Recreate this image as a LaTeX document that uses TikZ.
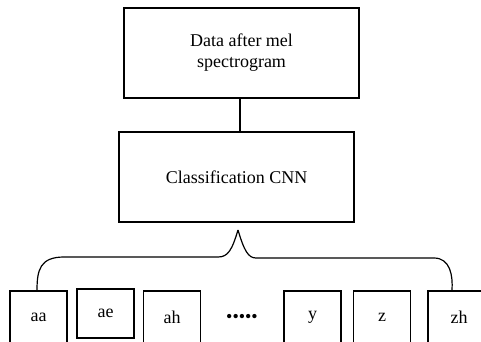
\documentclass[tikz,border=0pt]{standalone}
\usepackage{fontspec}
\setmainfont{Liberation Serif}
\begin{document}
\begin{tikzpicture}[x=1pt,y=-1pt,
  box/.style={draw, line width=1.2pt, inner sep=0pt, align=center, font=\fontsize{18}{21}\selectfont},
  leaf/.style={box, minimum width=57pt, minimum height=52pt},
  link/.style={line width=1.2pt}]
\useasboundingbox (0,0) rectangle (481,341);
\clip (0,0) rectangle (481,341);
\node[box, minimum width=235pt, minimum height=90pt] (data) at (241.5,53) {Data after mel\\spectrogram};
\node[box, minimum width=235pt, minimum height=90pt] (cnn) at (236.5,177) {Classification CNN};
\coordinate (mid) at (240,0);
\draw[link] (data.south -| mid) -- (cnn.north -| mid);

\node[leaf] (aa) at (38.5,317) {aa};
\node[leaf, minimum height=49pt] (ae) at (105.5,313.5) {ae};
\node[leaf] (ah) at (172,317) {ah};
\node[font=\fontsize{18}{21}\selectfont, inner sep=0pt] (dots) at (242,318) {\textbullet\textbullet\textbullet\textbullet\textbullet};
\node[leaf] (y) at (312.5,317) {y};
\node[leaf] (z) at (382,317) {z};
\node[leaf, minimum width=62pt] (zh) at (459,317) {zh};

% brace from the classifier down to the first and last class
\coordinate (cusp) at (238,230);
\draw[link] (cusp) .. controls (232,250) and (228,257) .. (218,257)
  -- (64,257) .. controls (40,257) and (37,270) .. (aa.north -| 37,0);
\draw[link] (cusp) .. controls (244,250) and (248,258) .. (256,258)
  -- (434,258) .. controls (450,258) and (453,275) .. (zh.north -| 452,0);
\end{tikzpicture}
\end{document}
